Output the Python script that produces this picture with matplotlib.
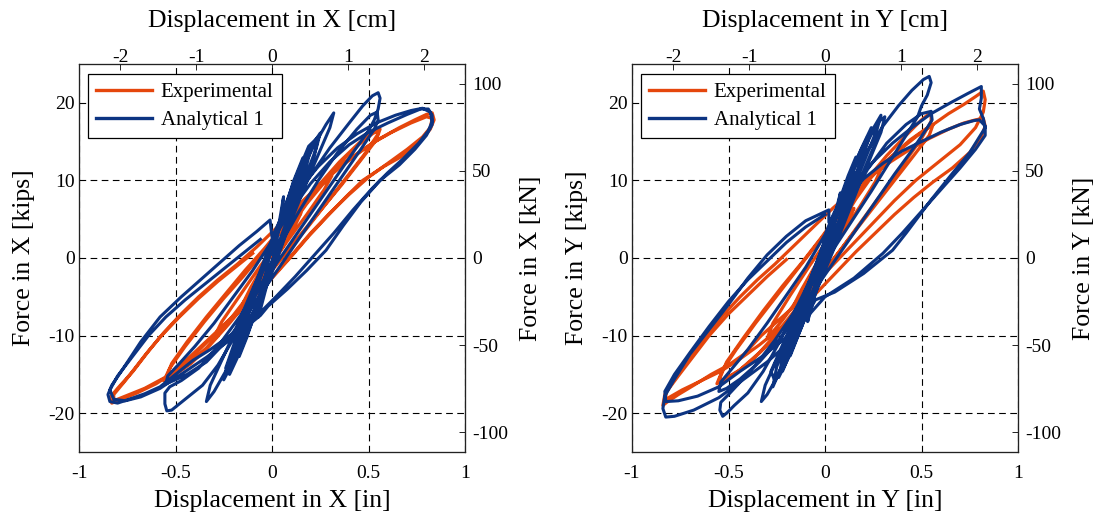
import numpy as np
import matplotlib
matplotlib.use('Agg')
import matplotlib.pyplot as plt

plt.rcParams['font.family'] = 'Liberation Serif'
plt.rcParams['axes.unicode_minus'] = False

# colours
orange = '#E5460C'
blue = '#0C3482'

# ---- data: (displacement [in], force [kips]) traced along each path ----
exp_x = [
    (0.00, 0.0), (0.05, 2.0), (0.10, 4.0), (0.15, 5.8), (0.12, 4.2), (0.06, 1.6), (0.00, -0.6), (-0.06, -2.8),
    (-0.12, -4.8), (-0.15, -5.8), (-0.11, -3.8), (-0.05, -1.2), (0.02, 1.2),
    (0.10, 4.2), (0.18, 7.0), (0.26, 9.4), (0.31, 10.6), (0.27, 8.8), (0.18, 5.6), (0.08, 2.2), (-0.02, -1.4),
    (-0.12, -4.8), (-0.22, -8.0), (-0.30, -10.2), (-0.26, -8.2), (-0.16, -4.6), (-0.06, -1.0),
    (0.05, 2.6), (0.15, 6.2), (0.25, 9.4), (0.35, 12.2), (0.45, 14.6), (0.52, 16.0), (0.56, 16.6), (0.54, 15.2),
    (0.46, 12.6), (0.36, 9.4), (0.26, 6.4), (0.16, 3.4), (0.06, 0.4), (-0.04, -2.6), (-0.14, -5.8), (-0.24, -8.8),
    (-0.34, -11.6), (-0.44, -13.8), (-0.52, -15.2), (-0.56, -15.8), (-0.53, -14.2), (-0.45, -11.4), (-0.35, -8.2),
    (-0.25, -5.2), (-0.15, -2.4), (-0.05, 0.6),
    (0.05, 3.4), (0.15, 6.6), (0.25, 9.6), (0.35, 12.4), (0.45, 14.8), (0.53, 16.4), (0.55, 16.0), (0.48, 13.4),
    (0.38, 10.2), (0.28, 7.0), (0.18, 3.8), (0.08, 0.8), (-0.02, -2.2), (-0.12, -5.4), (-0.22, -8.4), (-0.32, -11.2),
    (-0.42, -13.6), (-0.50, -15.0), (-0.55, -15.6), (-0.52, -13.6), (-0.44, -10.8), (-0.34, -7.6), (-0.24, -4.6),
    (-0.14, -1.6),
    (-0.04, 1.2), (0.06, 4.2), (0.16, 7.2), (0.26, 9.8), (0.36, 12.0), (0.46, 13.8), (0.56, 15.4), (0.66, 16.8),
    (0.74, 17.8), (0.80, 18.5), (0.83, 18.7), (0.84, 17.8), (0.82, 16.6), (0.76, 14.8), (0.68, 13.2), (0.58, 11.8),
    (0.47, 10.0), (0.38, 7.8), (0.28, 5.2), (0.19, 2.8), (0.10, 0.2), (0.00, -2.6), (-0.10, -5.2), (-0.20, -7.6),
    (-0.29, -9.7), (-0.40, -12.4), (-0.50, -14.6), (-0.60, -16.2), (-0.70, -17.4), (-0.78, -18.2), (-0.83, -18.7),
    (-0.84, -18.0), (-0.80, -16.8), (-0.72, -14.6), (-0.64, -12.0), (-0.56, -9.6), (-0.47, -7.2), (-0.38, -5.0),
    (-0.28, -2.8), (-0.18, -0.8), (-0.08, 1.4), (0.02, 3.8), (0.12, 6.4), (0.22, 8.8), (0.32, 11.0), (0.42, 13.0),
    (0.52, 14.8), (0.62, 16.2), (0.72, 17.4), (0.80, 18.2), (0.83, 18.0), (0.82, 16.8), (0.78, 15.6), (0.70, 14.0),
    (0.60, 12.2), (0.50, 10.4), (0.40, 8.2), (0.30, 5.8), (0.20, 3.2), (0.11, 0.6), (0.01, -2.2), (-0.09, -4.8),
    (-0.19, -7.2), (-0.30, -9.8), (-0.42, -12.6), (-0.54, -15.2), (-0.66, -16.8), (-0.76, -17.8), (-0.82, -18.4),
    (-0.82, -17.6), (-0.76, -15.8), (-0.66, -12.6), (-0.58, -10.2), (-0.48, -7.6), (-0.38, -5.2), (-0.28, -3.0),
    (-0.18, -1.0), (-0.10, 0.6),
]

ana_x = [
    (0.00, 0.5), (0.03, 3.5), (0.06, 7.9), (0.05, 5.6), (0.01, 0.4), (-0.03, -3.8), (-0.07, -7.6), (-0.06, -5.0),
    (-0.01, 0.5),
    (0.05, 4.8), (0.11, 9.8), (0.16, 12.9), (0.15, 10.8), (0.08, 4.6), (0.00, -1.2), (-0.08, -6.5), (-0.13, -10.2),
    (-0.17, -12.7), (-0.16, -10.6), (-0.08, -4.0), (0.00, 1.6),
    (0.08, 7.4), (0.16, 12.2), (0.22, 15.0), (0.25, 16.1), (0.23, 14.2), (0.14, 8.2), (0.04, 1.2), (-0.06, -5.2),
    (-0.15, -10.6), (-0.21, -13.8), (-0.25, -15.7), (-0.23, -13.8), (-0.14, -7.8), (-0.04, -1.0),
    (0.06, 5.6), (0.14, 10.6), (0.22, 14.6), (0.28, 17.2), (0.32, 18.7), (0.30, 16.8), (0.20, 11.0), (0.08, 3.6),
    (-0.04, -3.6), (-0.14, -9.6), (-0.24, -14.6), (-0.30, -17.2), (-0.34, -18.5), (-0.32, -16.4), (-0.22, -11.0),
    (-0.10, -4.0),
    (0.02, 2.6), (0.10, 8.0), (0.17, 12.4), (0.20, 14.0), (0.18, 12.0), (0.08, 5.0), (-0.02, -1.8), (-0.11, -7.8),
    (-0.19, -12.8), (-0.21, -13.6), (-0.19, -11.6), (-0.08, -3.4), (0.02, 3.4), (0.11, 9.6), (0.19, 14.4),
    (0.24, 15.6), (0.22, 13.2), (0.12, 6.4), (0.02, -0.6), (-0.08, -6.8), (-0.16, -11.8), (-0.22, -15.0),
    (-0.24, -14.2), (-0.12, -5.6),
    (0.00, 2.4), (0.10, 6.8), (0.20, 10.6), (0.30, 14.2), (0.40, 17.4), (0.47, 19.6), (0.52, 20.9), (0.55, 21.3),
    (0.56, 20.6), (0.55, 19.2), (0.53, 17.8), (0.50, 16.4), (0.42, 13.6), (0.32, 10.0), (0.22, 6.4), (0.12, 2.8),
    (0.02, -0.8), (-0.08, -4.4), (-0.18, -8.0), (-0.28, -11.4), (-0.38, -14.2), (-0.47, -15.8), (-0.53, -16.6),
    (-0.555, -17.4), (-0.555, -18.8), (-0.545, -19.7), (-0.52, -19.6), (-0.48, -18.8), (-0.42, -17.6),
    (-0.36, -16.4), (-0.28, -13.8), (-0.20, -10.4), (-0.12, -6.6), (-0.04, -2.6),
    (0.04, 1.6), (0.14, 6.0), (0.24, 10.0), (0.34, 13.6), (0.44, 16.6), (0.51, 18.4), (0.545, 18.8), (0.55, 17.8),
    (0.53, 16.6), (0.46, 14.0), (0.36, 10.4), (0.26, 6.8), (0.16, 3.2), (0.06, -0.4), (-0.04, -4.0), (-0.14, -7.6),
    (-0.24, -10.8), (-0.34, -13.4), (-0.44, -15.0), (-0.51, -15.8), (-0.55, -16.2), (-0.54, -15.2), (-0.48, -13.6),
    (-0.40, -11.4), (-0.30, -8.4), (-0.20, -5.0), (-0.10, -1.6),
    (0.00, 2.2), (0.10, 6.2), (0.20, 9.6), (0.30, 12.4), (0.40, 14.6), (0.50, 16.2), (0.60, 17.4), (0.70, 18.5),
    (0.77, 19.2), (0.81, 19.2), (0.83, 18.4), (0.83, 17.2), (0.80, 15.8), (0.74, 14.0), (0.66, 12.0), (0.56, 10.0),
    (0.46, 7.2), (0.37, 4.2), (0.28, 1.0), (0.18, -1.6), (0.08, -4.0), (-0.02, -6.2), (-0.06, -7.4), (-0.12, -8.6),
    (-0.23, -10.2), (-0.32, -11.8), (-0.41, -13.2), (-0.50, -15.0), (-0.58, -16.6), (-0.66, -17.5), (-0.74, -18.2),
    (-0.80, -18.7), (-0.84, -18.5), (-0.85, -17.6), (-0.83, -16.4), (-0.77, -14.2), (-0.68, -10.8), (-0.58, -7.6),
    (-0.47, -5.0), (-0.37, -2.8), (-0.27, -0.6), (-0.17, 1.6), (-0.08, 3.4), (-0.01, 4.9), (0.00, 2.7),
    (0.06, 5.8), (0.14, 8.8), (0.24, 11.8), (0.34, 14.2), (0.44, 16.0), (0.54, 17.4), (0.64, 18.4), (0.72, 19.0),
    (0.78, 19.3), (0.82, 18.8), (0.83, 17.6), (0.81, 16.4), (0.76, 14.8), (0.68, 12.8), (0.60, 11.0), (0.52, 9.0),
    (0.42, 6.2), (0.32, 3.2), (0.22, 0.4), (0.12, -2.4), (0.02, -5.0), (-0.10, -8.0), (-0.22, -10.6),
    (-0.34, -12.8), (-0.46, -14.8), (-0.58, -16.8), (-0.68, -17.9), (-0.76, -18.4), (-0.82, -18.2), (-0.84, -17.0),
    (-0.80, -15.2), (-0.72, -12.6), (-0.64, -10.0), (-0.55, -7.6), (-0.45, -5.4), (-0.35, -3.4), (-0.25, -1.4),
    (-0.15, 0.6), (-0.06, 2.4),
]

exp_y = [
    (0.00, 0.0), (0.05, 2.4), (0.10, 4.6), (0.15, 6.4), (0.12, 4.8), (0.06, 2.2), (0.00, -0.2), (-0.06, -2.6),
    (-0.12, -4.8), (-0.16, -6.0), (-0.12, -4.0), (-0.06, -1.4), (0.00, 1.0),
    (0.08, 4.4), (0.16, 7.6), (0.24, 10.4), (0.30, 12.0), (0.26, 9.8), (0.18, 6.6), (0.08, 2.8), (-0.02, -1.0),
    (-0.12, -4.6), (-0.22, -8.0), (-0.30, -10.4), (-0.27, -8.4), (-0.18, -4.8), (-0.08, -1.0),
    (0.02, 2.6), (0.12, 6.6), (0.22, 10.2), (0.32, 13.2), (0.42, 15.8), (0.50, 17.8), (0.55, 18.8), (0.55, 17.6),
    (0.50, 15.4), (0.42, 12.6), (0.32, 9.2), (0.22, 5.8), (0.12, 2.4), (0.02, -1.0), (-0.08, -4.4), (-0.18, -7.8),
    (-0.28, -10.8), (-0.38, -13.2), (-0.46, -14.8), (-0.53, -15.8), (-0.56, -16.2), (-0.53, -14.4), (-0.46, -11.8),
    (-0.36, -8.4), (-0.26, -5.2), (-0.16, -2.0), (-0.06, 1.2),
    (0.04, 4.4), (0.14, 7.6), (0.24, 10.6), (0.34, 13.0), (0.44, 15.2), (0.52, 16.6), (0.56, 17.2), (0.54, 15.8),
    (0.46, 13.2), (0.36, 10.0), (0.26, 6.8), (0.16, 3.6), (0.06, 0.4), (-0.04, -2.8), (-0.14, -6.2), (-0.24, -9.4),
    (-0.34, -12.2), (-0.44, -14.4), (-0.52, -15.6), (-0.55, -15.8), (-0.51, -13.4), (-0.42, -10.2), (-0.32, -6.8),
    (-0.22, -3.6), (-0.12, -0.6),
    (-0.02, 2.6), (0.08, 6.0), (0.18, 9.0), (0.28, 11.6), (0.38, 13.8), (0.48, 15.8), (0.56, 17.2), (0.64, 18.6),
    (0.72, 19.8), (0.78, 20.8), (0.82, 21.5), (0.83, 20.4), (0.82, 18.8), (0.78, 16.8), (0.70, 14.6), (0.60, 12.6),
    (0.47, 10.0), (0.36, 7.4), (0.26, 4.8), (0.16, 2.2), (0.06, -0.4), (-0.04, -3.0), (-0.14, -5.8), (-0.24, -8.0),
    (-0.33, -10.0), (-0.42, -12.4), (-0.50, -13.8), (-0.59, -15.0), (-0.68, -16.4), (-0.76, -17.6), (-0.82, -18.6),
    (-0.84, -19.0), (-0.83, -17.6), (-0.78, -15.6), (-0.70, -13.0), (-0.62, -10.0), (-0.53, -7.4), (-0.44, -5.0),
    (-0.35, -2.8), (-0.26, -0.8), (-0.16, 1.6), (-0.06, 4.0), (0.04, 6.4), (0.14, 8.6), (0.24, 10.6), (0.34, 12.4),
    (0.44, 14.0), (0.54, 15.4), (0.64, 16.6), (0.72, 17.4), (0.78, 17.8), (0.82, 18.0), (0.83, 17.0), (0.81, 15.6),
    (0.75, 13.6), (0.66, 11.6), (0.56, 9.8), (0.46, 7.8), (0.36, 5.6), (0.26, 3.2), (0.16, 0.8), (0.06, -1.8),
    (-0.04, -4.4), (-0.14, -7.0), (-0.24, -9.2), (-0.34, -11.2), (-0.44, -13.0), (-0.54, -14.6), (-0.64, -15.8),
    (-0.74, -17.0), (-0.81, -18.0), (-0.83, -18.4), (-0.82, -17.2), (-0.76, -15.2), (-0.68, -12.6), (-0.60, -10.0),
    (-0.50, -7.2), (-0.40, -4.8), (-0.30, -2.4), (-0.20, -0.2),
]

ana_y = [
    (0.00, 0.5), (0.04, 4.5), (0.08, 8.4), (0.06, 5.6), (0.00, -0.6), (-0.05, -4.6), (-0.09, -8.2), (-0.07, -5.4),
    (0.00, 1.4),
    (0.06, 6.4), (0.12, 10.6), (0.16, 13.0), (0.14, 10.4), (0.06, 3.6), (-0.04, -3.0), (-0.12, -8.8),
    (-0.18, -12.6), (-0.16, -10.0), (-0.06, -2.6), (0.02, 3.0),
    (0.10, 8.8), (0.17, 13.0), (0.22, 15.6), (0.20, 13.4), (0.10, 6.0), (0.00, -1.0), (-0.10, -7.6),
    (-0.18, -12.4), (-0.24, -15.4), (-0.22, -12.8), (-0.10, -5.0), (0.00, 2.2),
    (0.08, 7.4), (0.16, 12.4), (0.23, 15.8), (0.28, 17.6), (0.31, 18.2), (0.29, 16.2), (0.18, 9.6), (0.06, 2.0),
    (-0.06, -5.2), (-0.16, -11.0), (-0.24, -15.0), (-0.30, -17.6), (-0.33, -18.5), (-0.31, -16.4), (-0.20, -10.4),
    (-0.08, -3.0),
    (0.02, 3.6), (0.10, 8.6), (0.18, 13.0), (0.25, 16.4), (0.27, 15.4), (0.16, 8.8), (0.04, 1.4), (-0.08, -5.8),
    (-0.18, -11.8), (-0.26, -15.8), (-0.28, -14.6), (-0.16, -7.8), (-0.04, -0.4),
    (0.04, 5.0), (0.12, 10.2), (0.19, 14.2), (0.24, 16.8), (0.22, 14.8), (0.12, 8.0), (0.01, 0.6), (-0.09, -6.4),
    (-0.17, -11.6), (-0.22, -14.6), (-0.20, -12.2), (-0.09, -4.6), (0.03, 4.0), (0.13, 10.6), (0.21, 15.0),
    (0.29, 18.4), (0.27, 16.6), (0.15, 9.2), (0.03, 1.8), (-0.07, -4.6), (-0.15, -10.0), (-0.21, -13.2),
    (-0.27, -16.6), (-0.25, -14.0), (-0.12, -6.0),
    (0.06, 5.2), (0.14, 9.8), (0.22, 13.8), (0.30, 17.0), (0.38, 19.6), (0.45, 21.6), (0.51, 23.0), (0.54, 23.4),
    (0.55, 22.6), (0.53, 21.0), (0.50, 19.6), (0.48, 18.2), (0.42, 15.8), (0.34, 12.6), (0.24, 8.6), (0.14, 4.8),
    (0.04, 1.0), (-0.06, -3.0), (-0.16, -7.0), (-0.26, -10.6), (-0.36, -13.8), (-0.44, -16.0), (-0.50, -17.6),
    (-0.54, -18.6), (-0.545, -19.6), (-0.53, -20.4), (-0.51, -20.0), (-0.47, -19.0), (-0.40, -17.4),
    (-0.32, -14.6), (-0.24, -11.0), (-0.16, -7.0), (-0.08, -3.0),
    (0.02, 2.0), (0.12, 7.0), (0.22, 11.4), (0.32, 14.8), (0.42, 17.2), (0.50, 18.6), (0.55, 18.9), (0.555, 17.8),
    (0.53, 16.8), (0.46, 14.2), (0.36, 10.8), (0.26, 7.2), (0.16, 3.6), (0.06, 0.0), (-0.04, -3.6), (-0.14, -7.2),
    (-0.24, -10.6), (-0.34, -13.4), (-0.44, -15.6), (-0.51, -16.8), (-0.55, -17.2), (-0.54, -16.0), (-0.48, -14.2),
    (-0.40, -11.8), (-0.30, -8.4), (-0.20, -4.8), (-0.10, -1.2),
    (0.00, 3.0), (0.05, 6.0), (0.15, 9.6), (0.25, 12.4), (0.35, 14.8), (0.45, 16.8), (0.55, 18.6), (0.65, 20.0),
    (0.74, 21.2), (0.81, 22.1), (0.81, 20.6), (0.80, 19.2), (0.82, 18.0), (0.83, 16.8), (0.80, 15.6), (0.75, 13.6),
    (0.66, 10.9), (0.55, 7.5), (0.42, 3.2), (0.35, 1.0), (0.20, -2.0), (0.05, -4.4), (-0.05, -5.4), (-0.12, -8.5),
    (-0.20, -11.2), (-0.30, -13.4), (-0.42, -15.6), (-0.55, -18.0), (-0.68, -19.6), (-0.78, -20.4), (-0.825, -20.5),
    (-0.84, -19.4), (-0.83, -17.8), (-0.78, -15.6), (-0.70, -12.4), (-0.60, -9.2), (-0.50, -6.0), (-0.40, -2.6),
    (-0.30, 0.4), (-0.20, 2.8), (-0.10, 4.8), (0.02, 6.2), (0.02, 4.6),
    (0.10, 7.4), (0.20, 10.2), (0.30, 12.2), (0.40, 13.8), (0.50, 15.0), (0.60, 16.2), (0.70, 17.2), (0.77, 17.7),
    (0.80, 17.8), (0.83, 17.0), (0.83, 15.8), (0.78, 14.0), (0.70, 11.6), (0.60, 8.8), (0.50, 6.0), (0.40, 3.2),
    (0.30, 0.6), (0.15, -2.6), (0.00, -5.0), (-0.10, -7.8), (-0.20, -10.2), (-0.32, -12.6), (-0.44, -14.6),
    (-0.55, -16.6), (-0.66, -17.8), (-0.76, -18.4), (-0.825, -18.5), (-0.83, -17.2), (-0.78, -15.0),
    (-0.70, -12.2), (-0.60, -8.8), (-0.50, -5.6), (-0.40, -2.8), (-0.30, -0.4), (-0.20, 2.0), (-0.10, 4.0),
    (0.00, 5.6),
]

disp_ticks = [-1, -0.5, 0, 0.5, 1]
disp_labels = ['-1', '-0.5', '0', '0.5', '1']
force_ticks = [-20, -10, 0, 10, 20]
cm_ticks = [-2, -1, 0, 1, 2]
kn_ticks = [-100, -50, 0, 50, 100]
IN2CM = 2.54
KIP2KN = 4.448

fig = plt.figure(figsize=(10.99, 5.16), dpi=100)
W, H = 1099.0, 516.0
panels = [(79, exp_x, ana_x, 'X'), (632, exp_y, ana_y, 'Y')]

for left, exp, ana, comp in panels:
    ax = fig.add_axes([left / W, 1 - 452 / H, 386 / W, 388 / H])
    e = np.array(exp)
    a = np.array(ana)
    ax.plot(e[:, 0], e[:, 1], color=orange, lw=2.3, label='Experimental', solid_joinstyle='round')
    ax.plot(a[:, 0], a[:, 1], color=blue, lw=2.2, label='Analytical 1', solid_joinstyle='round')
    ax.set_xlim(-1, 1)
    ax.set_ylim(-25, 25)
    ax.set_xticks(disp_ticks)
    ax.set_xticklabels(disp_labels)
    ax.set_yticks(force_ticks)
    ax.set_yticklabels([str(t) for t in force_ticks])
    ax.grid(True, color='k', linestyle=(0, (6, 4)), lw=0.8)
    ax.tick_params(direction='in', top=True, right=True, length=4, labelsize=14, width=0.6)
    ax.tick_params(axis='x', pad=9)
    ax.tick_params(axis='y', pad=3)
    ax.set_xlabel('Displacement in %s [in]' % comp, fontsize=18.5, labelpad=6)
    ax.set_ylabel('Force in %s [kips]' % comp, fontsize=18.5, labelpad=10)
    leg = ax.legend(loc='upper left', bbox_to_anchor=(0.023, 0.974), borderaxespad=0,
                    fontsize=15, fancybox=False, edgecolor='k', framealpha=1,
                    handlelength=2.7, handletextpad=0.4, labelspacing=0.4, borderpad=0.4)
    leg.get_frame().set_linewidth(0.9)
    for l in leg.get_lines():
        l.set_linewidth(2.4)

    top = ax.twiny()
    top.set_xlim(-IN2CM, IN2CM)
    top.set_xticks(cm_ticks)
    top.set_xticklabels([str(t) for t in cm_ticks])
    top.tick_params(direction='in', length=4, labelsize=14, width=0.6, pad=-1.5)
    top.set_xlabel('Displacement in %s [cm]' % comp, fontsize=18.5, labelpad=16)

    right = ax.twinx()
    right.set_ylim(-25 * KIP2KN, 25 * KIP2KN)
    right.set_yticks(kn_ticks)
    right.set_yticklabels([str(t) for t in kn_ticks])
    right.tick_params(direction='in', length=4, labelsize=14, width=0.6, pad=5)
    right.set_ylabel('Force in %s [kN]' % comp, fontsize=18.5, labelpad=9)

    for a_ in (ax, top, right):
        for s in a_.spines.values():
            s.set_linewidth(0.8)
            s.set_color('#222222')

fig.savefig('out.png', dpi=100)
